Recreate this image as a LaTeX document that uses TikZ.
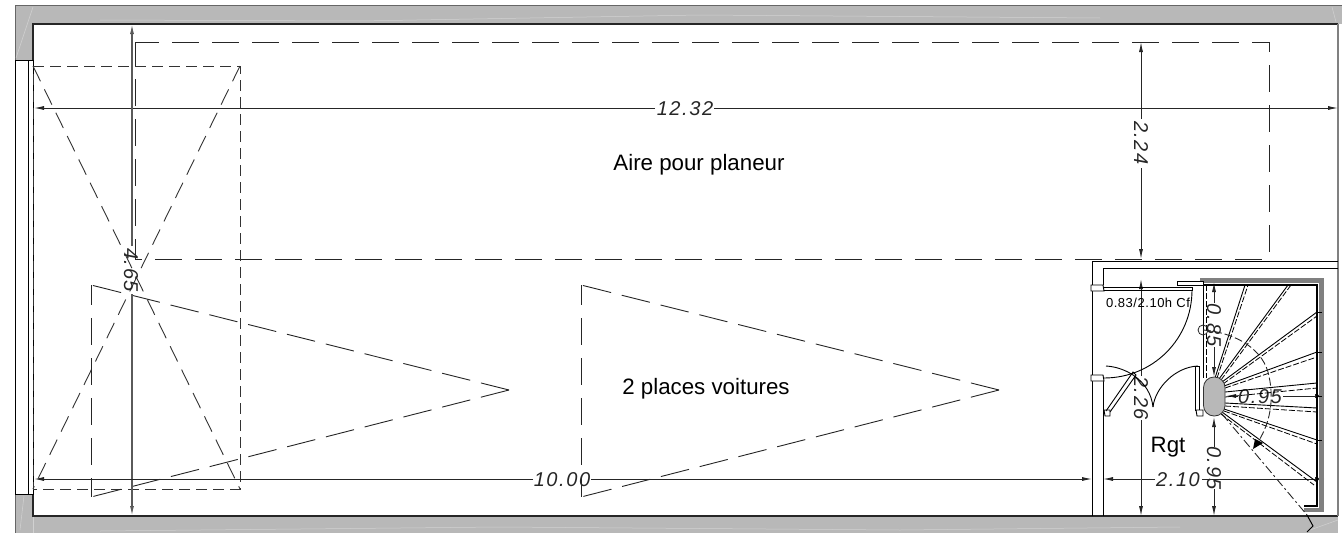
\documentclass[tikz,border=0pt]{standalone}
\usepackage{fontspec}
\setmainfont{Liberation Sans}
\newfontfamily\dimf[LetterSpace=8]{Liberation Sans}
\newfontfamily\smallf[LetterSpace=4]{Liberation Sans}
\usetikzlibrary{arrows.meta}
\definecolor{wallgrey}{gray}{0.72}
\definecolor{darkg}{HTML}{666666}
\definecolor{midg}{HTML}{808080}
\tikzset{
  x=1pt,y=-1pt,
  wall/.style={line width=1.5pt,draw=black!85},
  thin line/.style={line width=0.9pt,draw=black},
  dim/.style={line width=0.9pt,draw=black!85,arrows={-Latex[length=10pt,width=4pt]}},
  dimlabel/.style={font=\dimf\itshape\fontsize{20}{20}\selectfont,inner sep=0pt,text=black!85},
  label/.style={font=\fontsize{22.3}{24}\selectfont,inner sep=0pt},
  dashrect/.style={line width=0.9pt,draw=black!85,dash pattern=on 27pt off 13pt,dash phase=3pt},
  dashshort/.style={line width=0.9pt,draw=black!80,dash pattern=on 11pt off 6pt},
  dashdiag/.style={line width=0.9pt,draw=black!80,dash pattern=on 17pt off 9pt},
  dashtri/.style={line width=0.9pt,draw=black!85,dash pattern=on 29pt off 11pt},
  dashtriv/.style={line width=0.9pt,draw=black!85,dash pattern=on 27pt off 13pt,dash phase=7pt},
  tread/.style={line width=0.9pt,draw=black},
  treaddash/.style={line width=0.8pt,draw=black,dash pattern=on 6pt off 2pt},
  streak/.style={line width=0.5pt,draw=white!35!wallgrey},
}
\begin{document}
\begin{tikzpicture}
\useasboundingbox (0,0) rectangle (1342,533);
% walls
\fill[color=wallgrey] (15,5) rectangle (1342,24);
\fill[color=wallgrey] (15,5) rectangle (33,60);
\fill[color=wallgrey] (15,494) rectangle (33,533);
\fill[color=wallgrey] (15,516) rectangle (1338,533);
\draw[darkg,line width=1pt] (15,60) -- (15,5) -- (1342,5);
\draw[darkg,line width=1pt] (15,494) -- (15,533);
\draw[streak] (16,58) -- (33,7);
\draw[streak] (100,20) -- (360,21) -- (700,15) -- (1100,18);
\draw[streak] (20,530) -- (24,496);
\draw[streak] (33,497) -- (33,533);
\draw[streak] (100,531) -- (500,527) -- (900,530) -- (1180,527);
\draw[streak] (1310,530) -- (1338,520);
\draw[streak] (1332,7) -- (1336,22);
\draw[wall] (33,60) -- (33,24) -- (1338,24);
\draw[wall] (33,494) -- (33,516) -- (1338,516);
\draw[midg,line width=1.2pt] (1338,24) -- (1338,516);
% window
\draw[thin line] (15,60) -- (34,60) (15,60) -- (15,494) (15,494) -- (34,494);
\draw[thin line] (28,60) -- (28,494) (33,60) -- (33,494);
% planeur area
\draw[dashrect] (135,42) -- (1269,42) -- (1269,259);
\draw[dashrect] (135,42) -- (135,259) -- (1269,259);
% car block
\draw[dashshort] (33,66) -- (240,66) -- (240,489) -- (33,489) -- cycle;
\draw[dashdiag] (33,66) -- (240,489);
\draw[dashdiag] (240,66) -- (33,489);
\draw[dashtri] (509,390) -- (91,285);
\draw[dashtri] (509,390) -- (91,497);
\draw[dashtriv] (91,285) -- (91,497);
\draw[dashtri] (999,390) -- (581,285);
\draw[dashtri] (999,390) -- (581,497);
\draw[dashtriv] (581,285) -- (581,497);
% labels
\node[label] (aire) at (699,165) {Aire pour planeur};
\node[label] (places) at (706,389) {2 places voitures};
\node[label] (rgt) at (1168,447) {Rgt};
% main dimensions
\node[dimlabel] (d1232) at (685,109) {12.32};
\draw[dim] (655,108) -- (34,108);
\draw[dim] (714,108) -- (1338,108);
\node[dimlabel,rotate=-90] (d465) at (131,270) {4.65};
\draw[dim,draw=midg!70!black,line width=1.3pt] (132,246) -- (132,24);
\draw[dim,draw=midg!70!black,line width=1.3pt] (132,294) -- (132,516);
\node[dimlabel,rotate=-90] (d224) at (1141,143) {2.24};
\draw[dim] (1141,119) -- (1141,42);
\draw[dim] (1141,168) -- (1141,259);
\node[dimlabel] (d1000) at (562,480) {10.00};
\draw[dim] (533,479) -- (34,479);
\draw[dim] (591,479) -- (1092,479);
\node[dimlabel] (d210) at (1178,480) {2.10};
\draw[dim] (1155,479) -- (1103,479);
\draw[dim] (1202,479) -- (1325,479);
\node[dimlabel,rotate=-90] (d226) at (1141,398) {2.26};
\draw[dim] (1141,376) -- (1141,279);
\draw[dim] (1141,420) -- (1141,516);
\node[dimlabel,rotate=-90] (d085) at (1214,325) {0.85};
\draw[dim] (1214,303) -- (1214,282);
\draw[dim] (1214,347) -- (1214,377);
\node[dimlabel,rotate=-90] (d095v) at (1214,468) {0.95};
\draw[dim] (1214,447) -- (1214,417);
\draw[dim] (1214,489) -- (1214,516);
\node[dimlabel] (d095h) at (1260,397) {0.95};
\draw[dim] (1238,396) -- (1226,396);
\draw[dim] (1283,396) -- (1325,396);
% room walls
\draw[thin line] (1338,261) -- (1092,261) -- (1092,516);
\draw[thin line] (1338,268) -- (1103,268) -- (1103,285);
\draw[thin line] (1103,381) -- (1103,516);
% door Cf
\draw[thin line,fill=white] (1091,285) -- (1103,285) -- (1104,291) -- (1091,291) -- cycle;
\draw[thin line,fill=white] (1091,375) -- (1103,375) -- (1104,381) -- (1091,381) -- cycle;
\draw[thin line] (1104,287) -- (1192,287) -- (1192,290) -- (1104,290);
\draw[thin line] (1192,290) .. controls (1192,339) and (1153,378) .. (1104,378);
\node[font=\smallf\fontsize{13}{13}\selectfont,inner sep=0pt] (cf) at (1148,303) {0.83/2.10h Cf};
% door Rgt
\draw[thin line,fill=white] (1104,410) -- (1110,410) -- (1110,416) -- (1105,416) -- cycle;
\draw[thin line] (1106,411) -- (1133,372) -- (1136,375) -- (1110,412);
\draw[thin line] (1106,366) .. controls (1125,367) and (1150,380) .. (1153,407);
\draw[thin line] (1153,407) .. controls (1155,388) and (1175,367) .. (1198,366);
\draw[thin line] (1195,366) -- (1199,366) -- (1199,410) -- (1195,410) -- cycle;
\draw[thin line,fill=white] (1196,410) -- (1203,410) -- (1203,416) -- (1197,416) -- cycle;
% stairs frame
\fill[midg] (1200,278) rectangle (1324,283);
\fill[midg] (1319,278) rectangle (1324,512);
\fill[midg] (1304,508) rectangle (1324,512);
\draw[thin line,fill=white] (1177,285) -- (1177,281) -- (1203,281) -- (1203,285) -- cycle;
\draw[thin line,line width=1.2pt] (1203,285) -- (1317,285) -- (1317,506) -- (1304,506);
\draw[thin line] (1203,285) -- (1203,378);
\draw[treaddash] (1206,285) -- (1206,378);
% treads
\foreach \xa/\ya/\xb/\yb in {
 1215/378/1245/285, 1219/379/1288/285, 1222/382/1317/312, 1224/386/1317/352,
 1225/392/1317/383, 1225/403/1317/408, 1224/409/1317/440, 1222/412/1317/482}
 {\draw[tread] (\xa,\ya) -- (\xb,\yb);}
\foreach \xa/\ya/\xb/\yb in {
 1217/378/1248/285, 1221/380/1291/285, 1223/384/1317/316, 1225/388/1317/357,
 1225/397/1317/388, 1225/406/1317/412, 1224/411/1317/444, 1221/414/1314/485}
 {\draw[treaddash] (\xa,\ya) -- (\xb,\yb);}
\foreach \yy in {312,352,440,396}{\draw[thin line] (1317,\yy) -- (1322,\yy);}
% newel
\draw[line width=0.8pt,draw=black!80,fill=wallgrey,rounded corners=10.5pt] (1203.5,377) rectangle (1225,416);
% walking line
\draw[line width=0.8pt,draw=black!85] (1203,330) circle[radius=5];
\draw[line width=0.9pt,draw=black!85,dash pattern=on 9pt off 3pt on 2pt off 3pt] (1222,414) -- (1307,515);
\draw[line width=1pt,draw=black] (1307,515) -- (1313,526) -- (1307,532);
\draw[line width=0.9pt,draw=black!85,dash pattern=on 8pt off 3pt]
  (1203,330) .. controls (1230,332) and (1260,345) .. (1268,372)
  .. controls (1274,395) and (1272,420) .. (1258,442);
\fill[black] (1253,449) -- (1255,439) -- (1263,443) -- cycle;
\end{tikzpicture}
\end{document}
